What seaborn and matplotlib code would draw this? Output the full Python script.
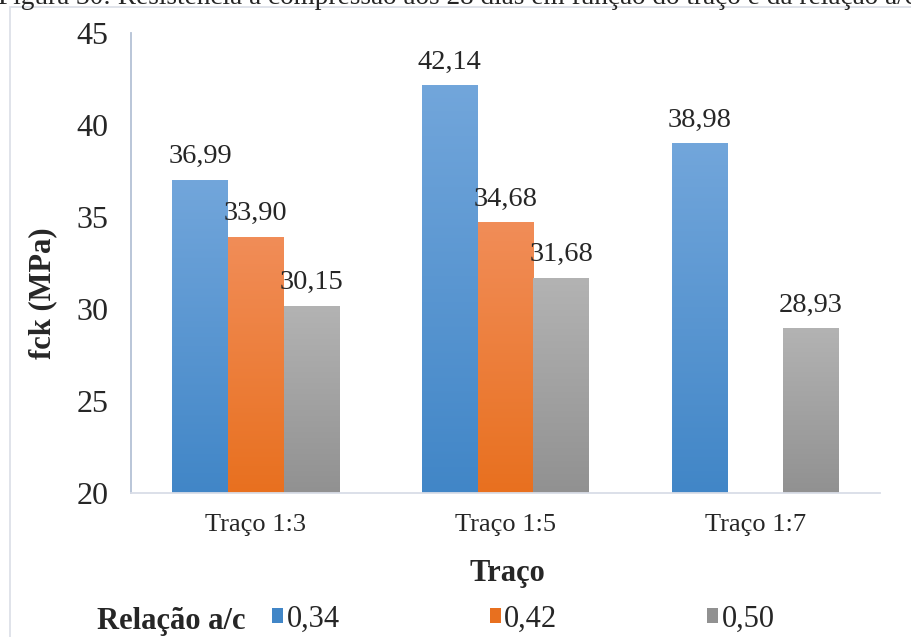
import numpy as np
import pandas as pd
import matplotlib
matplotlib.use("Agg")
import matplotlib.pyplot as plt
from matplotlib.colors import LinearSegmentedColormap
from matplotlib.patches import Rectangle
import seaborn as sns

# ---- data ----
tracos = ["Traço 1:3", "Traço 1:5", "Traço 1:7"]
relacoes = ["0,34", "0,42", "0,50"]
vals_034 = [36.99, 42.14, 38.98]
vals_042 = [33.90, 34.68, np.nan]
vals_050 = [30.15, 31.68, 28.93]
y_ticks = [20, 25, 30, 35, 40, 45]

rows = []
for rel, vals in zip(relacoes, [vals_034, vals_042, vals_050]):
    for t, v in zip(tracos, vals):
        rows.append({"Traço": t, "Relação a/c": rel, "fck": v})
df = pd.DataFrame(rows)

# gradient colours (top, bottom)
grad = {
    "0,34": ("#72a6db", "#4186c7"),
    "0,42": ("#f18d58", "#e8701f"),
    "0,50": ("#b3b3b3", "#919191"),
}
solid = {k: v[1] for k, v in grad.items()}

sns.set_theme(style="white")
plt.rcParams["font.family"] = ["Liberation Serif", "DejaVu Serif"]

fig = plt.figure(figsize=(9.11, 6.37), dpi=100)
W, H = 911, 637
ax = fig.add_axes([131 / W, 1 - 493 / H, (880 - 131) / W, (493 - 33) / H])

sns.barplot(data=df, x="Traço", y="fck", hue="Relação a/c", order=tracos,
            hue_order=relacoes, palette=solid, width=0.67, gap=0,
            errorbar=None, ax=ax, legend=False, saturation=1)

ymin, ymax = 20, 45
ax.set_ylim(ymin, ymax)
ax.set_yticks(y_ticks)
ax.set_yticklabels([str(t) for t in y_ticks], fontsize=23)
ax.tick_params(axis="y", length=0, pad=16)
ax.tick_params(axis="x", length=0, pad=15, labelsize=19)

for s in ["top", "right"]:
    ax.spines[s].set_visible(False)
ax.spines["left"].set_color("#b4c1d6")
ax.spines["left"].set_linewidth(1.3)
ax.spines["bottom"].set_color("#d9dde7")
ax.spines["bottom"].set_linewidth(1.3)

# gradient fills + labels
for cont, rel in zip(ax.containers, relacoes):
    top, bot = grad[rel]
    cmap = LinearSegmentedColormap.from_list("g", [bot, top])
    labels = []
    for bar, v in zip(cont.patches, cont.datavalues):
        if np.isnan(v) or bar.get_height() == 0:
            labels.append("")
            continue
        x0, w = bar.get_x(), bar.get_width()
        y1 = bar.get_y() + bar.get_height()
        ax.imshow(np.linspace(0, 1, 256).reshape(-1, 1), cmap=cmap,
                  origin="lower", extent=[x0, x0 + w, ymin, y1],
                  aspect="auto", zorder=bar.get_zorder() + 0.1)
        labels.append(f"{v:.2f}".replace(".", ","))
    ax.bar_label(cont, labels=labels, padding=8, fontsize=20.5)
ax.set_xlim(-0.5, 2.5)
ax.set_ylim(ymin, ymax)

ax.set_xlabel("Traço", fontsize=22, fontweight="bold", va="center")
ax.xaxis.set_label_coords((507 - 131) / 749, (493 - 574) / 460)
ax.set_ylabel("fck (MPa)", fontsize=22, fontweight="bold", va="center")
ax.yaxis.set_label_coords((43 - 131) / 749, (493 - 293) / 460)

# legend
handles = [Rectangle((0, 0), 1, 1, facecolor=solid[r], edgecolor="none") for r in relacoes]
fig.text(97 / W, 1 - 621 / H, "Relação a/c", fontsize=22, fontweight="bold",
         ha="left", va="center")
fig.legend(handles, relacoes, loc="center left", bbox_to_anchor=(272 / W, 1 - 619 / H),
           ncol=3, frameon=False, fontsize=22, handlelength=0.36, handleheight=0.4,
           handletextpad=0.12, columnspacing=4.9, borderaxespad=0, borderpad=0)

# caption (cut at top) and frame
fig.text(-2 / W, 1 - 4 / H, "Figura 30: Resistência à compressão aos 28 dias em função do traço e da relação a/c",
         fontsize=19.6, ha="left", va="baseline")
fig.patches.append(Rectangle((10 / W, -0.1), 1.2, 1 - 7 / H + 0.1, transform=fig.transFigure,
                             fill=False, edgecolor="#dde1e8", linewidth=1.3, zorder=0))

fig.savefig("out.png", dpi=100)
